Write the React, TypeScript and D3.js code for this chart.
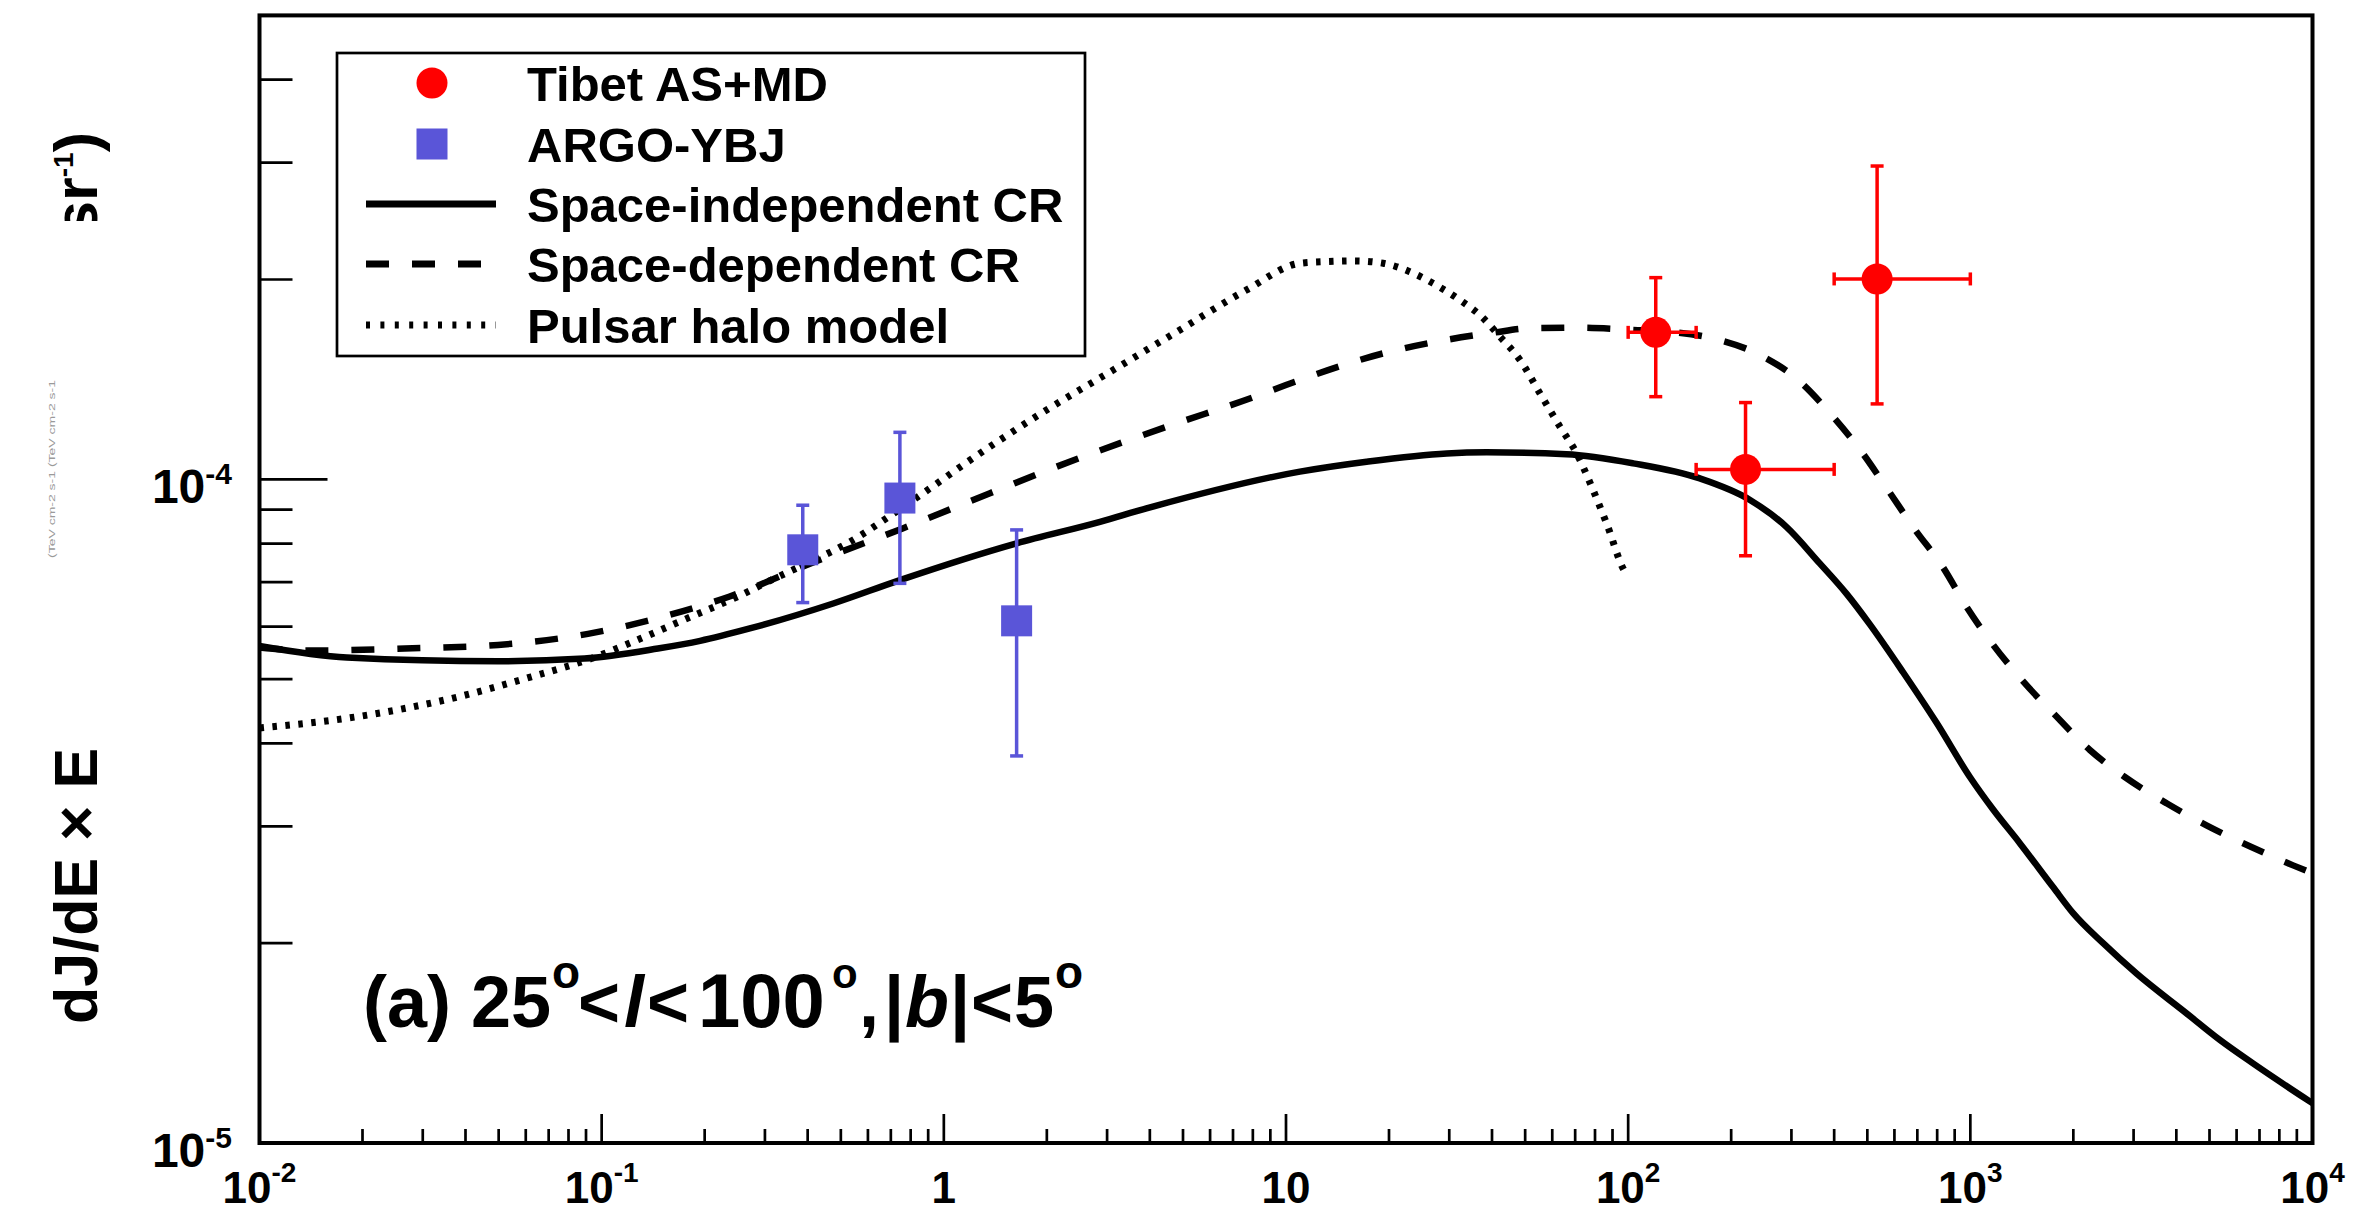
import React from "react";
import * as d3 from "d3";

const W = 2377;
const H = 1214;

// ---- data ----
const energyTibet = [120.4, 220.3, 534];
const energyTibetLo = [100, 158, 400];
const energyTibetHi = [158, 400, 1000];
const fluxTibet = [1.665e-4, 1.035e-4, 2.004e-4];
const fluxTibetLo = [1.332e-4, 7.67e-5, 1.299e-4];
const fluxTibetHi = [2.013e-4, 1.305e-4, 2.965e-4];

const energyArgo = [0.387, 0.744, 1.632];
const fluxArgo = [7.83e-5, 9.37e-5, 6.12e-5];
const fluxArgoLo = [6.52e-5, 6.97e-5, 3.83e-5];
const fluxArgoHi = [9.14e-5, 1.177e-4, 8.39e-5];

const energyIndep = [0.01, 0.018, 0.0498, 0.089, 0.146, 0.194, 0.271, 0.475, 0.744, 1.632, 2.86, 3.91, 10.98, 17.2, 29.5, 38.6, 66, 103.4, 162, 227, 290, 363, 435, 508, 636, 796, 997, 1166, 1395, 1745, 1997, 2444, 3060, 4284, 5360, 6700, 10000];
const fluxIndep = [5.61e-5, 5.39e-5, 5.32e-5, 5.37e-5, 5.56e-5, 5.71e-5, 5.96e-5, 6.5e-5, 7.05e-5, 8.01e-5, 8.63e-5, 9.04e-5, 1.027e-4, 1.063e-4, 1.094e-4, 1.098e-4, 1.091e-4, 1.057e-4, 1.003e-4, 9.31e-5, 8.48e-5, 7.47e-5, 6.72e-5, 6.05e-5, 5.12e-5, 4.3e-5, 3.56e-5, 3.18e-5, 2.83e-5, 2.43e-5, 2.22e-5, 2.0e-5, 1.8e-5, 1.568e-5, 1.43e-5, 1.318e-5, 1.148e-5];

const energyDep = [0.01, 0.0141, 0.0266, 0.0498, 0.0912, 0.1277, 0.1729, 0.2366, 0.42, 0.761, 1.364, 2.47, 4.48, 8.11, 10.62, 20.1, 27.5, 40.3, 51.6, 70.7, 103.4, 132, 181, 243, 314, 393, 481, 575, 688, 829, 974, 1166, 1427, 1786, 2235, 2828, 3745, 4900, 6553, 8776, 10000];
const fluxDep = [5.58e-5, 5.52e-5, 5.56e-5, 5.63e-5, 5.85e-5, 6.07e-5, 6.33e-5, 6.66e-5, 7.51e-5, 8.44e-5, 9.53e-5, 1.075e-4, 1.2e-4, 1.332e-4, 1.403e-4, 1.557e-4, 1.612e-4, 1.663e-4, 1.689e-4, 1.692e-4, 1.679e-4, 1.669e-4, 1.626e-4, 1.539e-4, 1.411e-4, 1.25e-4, 1.1e-4, 9.63e-5, 8.41e-5, 7.39e-5, 6.43e-5, 5.63e-5, 4.96e-5, 4.39e-5, 3.91e-5, 3.56e-5, 3.25e-5, 3.01e-5, 2.8e-5, 2.62e-5, 2.55e-5];

const energyPulsar = [0.01, 0.0194, 0.038, 0.0623, 0.0932, 0.1305, 0.1827, 0.2502, 0.313, 0.387, 0.52, 0.814, 1.275, 1.997, 3.126, 4.896, 7.667, 10.98, 13.14, 15.9, 19.23, 23.0, 26.9, 32.2, 37.3, 42.2, 48.3, 55.2, 63.2, 70.7, 79, 86.5, 97.8, 100];
const fluxPulsar = [4.22e-5, 4.39e-5, 4.7e-5, 5.04e-5, 5.37e-5, 5.76e-5, 6.21e-5, 6.66e-5, 7.05e-5, 7.42e-5, 8.0e-5, 9.31e-5, 1.094e-4, 1.272e-4, 1.461e-4, 1.679e-4, 1.929e-4, 2.116e-4, 2.128e-4, 2.133e-4, 2.116e-4, 2.055e-4, 1.974e-4, 1.863e-4, 1.758e-4, 1.64e-4, 1.513e-4, 1.348e-4, 1.2e-4, 1.094e-4, 9.63e-5, 8.58e-5, 7.26e-5, 7.15e-5];

const xTickValues = [1e-2, 1e-1, 1, 10, 1e2, 1e3, 1e4];
const xTickBases = ["10", "10", "1", "10", "10", "10", "10"];
const xTickExps = ["-2", "-1", "", "", "2", "3", "4"];
const yTickValues = [1e-5, 1e-4];
const yTickBases = ["10", "10"];
const yTickExps = ["-5", "-4"];

const legendLabels = ["Tibet AS+MD", "ARGO-YBJ", "Space-independent CR", "Space-dependent CR", "Pulsar halo model"];

const RED = "#ff0000";
const BLUE = "#5a55d8";
const FONT = "'Liberation Sans', Arial, Helvetica, sans-serif";

export default function App() {
  const x = d3.scaleLog().domain([1e-2, 1e4]).range([259.5, 2312.5]);
  const y = d3.scaleLog().domain([1e-5, 5e-4]).range([1143, 15.4]);
  const line = d3
    .line<[number, number]>()
    .x((d) => x(d[0]))
    .y((d) => y(d[1]))
    .curve(d3.curveMonotoneX);

  const zip = (a: number[], b: number[]) => a.map((v, i) => [v, b[i]] as [number, number]);
  const isMajor = (v: number) => Math.abs(Math.log10(v) - Math.round(Math.log10(v))) < 1e-6;

  const [x0, x1] = x.range();
  const [y0, y1] = y.range();

  const xt = x.ticks();
  const yt = y.ticks().filter((v) => v < 4.99e-4);

  const cap = 6.5;
  const legendRows = [83, 144, 204, 264, 325];
  const supDy = -39;

  return (
    <div style={{ position: "absolute", left: 0, top: 0, width: W, height: H, background: "#fff" }}>
      <svg width={W} height={H} viewBox={`0 0 ${W} ${H}`} style={{ display: "block", fontFamily: FONT }}>
        <defs>
          <clipPath id="plotclip">
            <rect x={x0} y={y1} width={x1 - x0} height={y0 - y1} />
          </clipPath>
          <clipPath id="srclip">
            <rect x={0} y={0} width={200} height={221} />
          </clipPath>
        </defs>
        <rect x={0} y={0} width={W} height={H} fill="#fff" />

        {/* curves */}
        <g clipPath="url(#plotclip)" fill="none" stroke="#000">
          <path d={line(zip(energyIndep, fluxIndep)) || ""} strokeWidth={6.5} />
          <path d={line(zip(energyDep, fluxDep)) || ""} strokeWidth={6.5} strokeDasharray="23 23" />
          <path d={line(zip(energyPulsar, fluxPulsar)) || ""} strokeWidth={7} strokeDasharray="4.5 8.5" />
        </g>

        {/* ARGO-YBJ */}
        <g stroke={BLUE} strokeWidth={3.5}>
          {energyArgo.map((e, i) => (
            <g key={i}>
              <line x1={x(e)} x2={x(e)} y1={y(fluxArgoLo[i])} y2={y(fluxArgoHi[i])} />
              <line x1={x(e) - cap} x2={x(e) + cap} y1={y(fluxArgoLo[i])} y2={y(fluxArgoLo[i])} />
              <line x1={x(e) - cap} x2={x(e) + cap} y1={y(fluxArgoHi[i])} y2={y(fluxArgoHi[i])} />
            </g>
          ))}
        </g>
        {energyArgo.map((e, i) => (
          <rect key={i} x={x(e) - 15.5} y={y(fluxArgo[i]) - 15.5} width={31} height={31} fill={BLUE} />
        ))}

        {/* Tibet AS+MD */}
        <g stroke={RED} strokeWidth={3.5}>
          {energyTibet.map((e, i) => (
            <g key={i}>
              <line x1={x(e)} x2={x(e)} y1={y(fluxTibetLo[i])} y2={y(fluxTibetHi[i])} />
              <line x1={x(e) - cap} x2={x(e) + cap} y1={y(fluxTibetLo[i])} y2={y(fluxTibetLo[i])} />
              <line x1={x(e) - cap} x2={x(e) + cap} y1={y(fluxTibetHi[i])} y2={y(fluxTibetHi[i])} />
              <line x1={x(energyTibetLo[i])} x2={x(energyTibetHi[i])} y1={y(fluxTibet[i])} y2={y(fluxTibet[i])} />
              <line x1={x(energyTibetLo[i])} x2={x(energyTibetLo[i])} y1={y(fluxTibet[i]) - cap} y2={y(fluxTibet[i]) + cap} />
              <line x1={x(energyTibetHi[i])} x2={x(energyTibetHi[i])} y1={y(fluxTibet[i]) - cap} y2={y(fluxTibet[i]) + cap} />
            </g>
          ))}
        </g>
        {energyTibet.map((e, i) => (
          <circle key={i} cx={x(e)} cy={y(fluxTibet[i])} r={15.5} fill={RED} />
        ))}

        {/* ticks */}
        <g stroke="#000" strokeWidth={2.7}>
          {xt.map((v, i) => (
            <line key={"xt" + i} x1={x(v)} x2={x(v)} y1={y0} y2={y0 - (isMajor(v) ? 29 : 14)} />
          ))}
          {yt.map((v, i) => (
            <line key={"yt" + i} x1={x0} x2={x0 + (isMajor(v) ? 68 : 33)} y1={y(v)} y2={y(v)} />
          ))}
        </g>

        {/* frame */}
        <rect x={x0} y={y1} width={x1 - x0} height={y0 - y1} fill="none" stroke="#000" strokeWidth={4} />

        {/* x tick labels */}
        {xTickValues.map((v, i) => (
          <text key={"xl" + i} x={x(v)} y={1203} textAnchor="middle" fontSize={44} fontWeight="bold" fill="#000">
            <tspan>{xTickBases[i]}</tspan>
            {xTickExps[i] && (
              <tspan dy={-21} fontSize={28}>
                {xTickExps[i]}
              </tspan>
            )}
          </text>
        ))}

        {/* y tick labels */}
        {yTickValues.map((v, i) => (
          <text key={"yl" + i} x={232} y={y(v) + 24} textAnchor="end" fontSize={48} fontWeight="bold" fill="#000">
            <tspan>{yTickBases[i]}</tspan>
            <tspan dy={-19} fontSize={30}>
              {yTickExps[i]}
            </tspan>
          </text>
        ))}

        {/* y axis title */}
        <g transform="translate(97, 1024) rotate(-90)">
          <text x={0} y={0} fontSize={61} fontWeight="bold" fill="#000">
            dJ/dE × E
          </text>
        </g>
        <g transform="translate(55, 558) rotate(-90)">
          <text x={0} y={0} fontSize={9} fill="#9a9a9a" textLength={178} lengthAdjust="spacingAndGlyphs">
            (TeV cm-2 s-1 (TeV cm-2 s-1
          </text>
        </g>
        <g clipPath="url(#srclip)">
          <g transform="translate(97, 132) rotate(-90)">
            <text x={0} y={0} textAnchor="end" fontSize={61} fontWeight="bold" fill="#000">
              <tspan>sr</tspan>
              <tspan dy={-24} fontSize={28}>-1</tspan>
              <tspan dy={24}>)</tspan>
            </text>
          </g>
        </g>

        {/* annotation */}
        <text y={1027} fontSize={72} fontWeight="bold" fill="#000">
          <tspan x={363}>(a) 25</tspan>
          <tspan x={552} dy={supDy} fontSize={46}>o</tspan>
          <tspan x={578} dy={-supDy}>&lt;</tspan>
          <tspan x={624} fontStyle="italic">l</tspan>
          <tspan x={647}>&lt;</tspan>
          <tspan x={698} fontSize={76}>100</tspan>
          <tspan x={832} dy={supDy} fontSize={42}>o</tspan>
          <tspan x={859} dy={-supDy}>,</tspan>
          <tspan x={884}>|</tspan>
          <tspan x={905} fontStyle="italic">b</tspan>
          <tspan x={950}>|</tspan>
          <tspan x={971}>&lt;</tspan>
          <tspan x={1014}>5</tspan>
          <tspan x={1055} dy={supDy} fontSize={46}>o</tspan>
        </text>

        {/* legend */}
        <rect x={337} y={53} width={748} height={303} fill="#fff" stroke="#000" strokeWidth={2.7} />
        <circle cx={432} cy={legendRows[0]} r={15.5} fill={RED} />
        <rect x={432 - 15.5} y={legendRows[1] - 15.5} width={31} height={31} fill={BLUE} />
        <line x1={366} x2={496} y1={legendRows[2]} y2={legendRows[2]} stroke="#000" strokeWidth={7} />
        <line x1={366} x2={496} y1={legendRows[3]} y2={legendRows[3]} stroke="#000" strokeWidth={7} strokeDasharray="23 23" />
        <line x1={366} x2={496} y1={legendRows[4]} y2={legendRows[4]} stroke="#000" strokeWidth={7} strokeDasharray="4 10.4" />
        {legendLabels.map((t, i) => (
          <text key={"lg" + i} x={527} y={legendRows[i] + 18} fontSize={49} fontWeight="bold" fill="#000">
            {t}
          </text>
        ))}
      </svg>
    </div>
  );
}
